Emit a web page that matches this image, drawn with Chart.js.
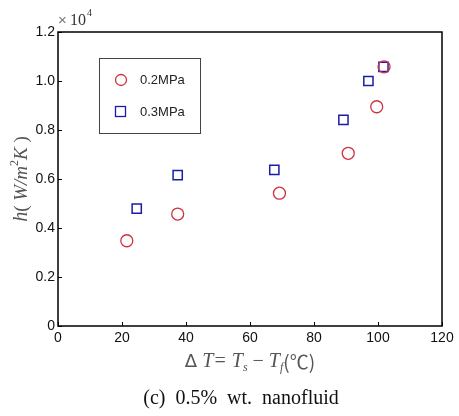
<!DOCTYPE html>
<html lang="en">
<head>
<meta charset="UTF-8">
<title>h vs ΔT</title>
<script src="https://cdn.jsdelivr.net/npm/chart.js"></script>
<style>
  html, body { margin: 0; padding: 0; background: #fff; }
  .wrap { position: relative; width: 459px; height: 416px; }
</style>
</head>
<body>
<div class="wrap"><canvas id="c" width="459" height="416"></canvas></div>
<script>
// data (h in units of 10^4 W/m2K)
const dT_02 = [21.5, 37.4, 69.2, 90.7, 99.6, 101.9];
const h_02  = [0.348, 0.457, 0.542, 0.705, 0.895, 1.058];
const dT_03 = [24.6, 37.4, 67.6, 89.2, 97.0, 101.7];
const h_03  = [0.479, 0.616, 0.637, 0.841, 1.000, 1.058];
const seriesNames = ['0.2MPa', '0.3MPa'];
const xTicks = [0, 20, 40, 60, 80, 100, 120];
const yTicks = [0, 0.2, 0.4, 0.6, 0.8, 1.0, 1.2];

const RED = '#d0303e';
const BLUE = '#1c1ca8';
const toPts = (xs, ys) => xs.map((x, i) => ({ x: x, y: ys[i] }));

// draws a run of [text, font, dy] pieces starting at x, returns end x
function runText(ctx, parts, x, y) {
  parts.forEach(([txt, font, dy]) => {
    ctx.font = font;
    ctx.fillText(txt, x, y + (dy || 0));
    x += ctx.measureText(txt).width;
  });
  return x;
}
function runWidth(ctx, parts) {
  let w = 0;
  parts.forEach(([t, f]) => { ctx.font = f; w += ctx.measureText(t).width; });
  return w;
}

// frame, inward ticks, legend box, titles and caption
const decor = {
  id: 'decor',
  afterDraw(chart) {
    const { ctx, chartArea: a, scales } = chart;
    ctx.save();
    ctx.strokeStyle = '#000';
    ctx.lineWidth = 1.5;
    ctx.strokeRect(a.left, a.top, a.right - a.left, a.bottom - a.top);
    ctx.lineWidth = 1;
    ctx.beginPath();
    scales.x.ticks.forEach(t => {
      const px = Math.round(scales.x.getPixelForValue(t.value)) + 0.5;
      ctx.moveTo(px, a.bottom); ctx.lineTo(px, a.bottom - 4);
    });
    scales.y.ticks.forEach(t => {
      const py = Math.round(scales.y.getPixelForValue(t.value)) + 0.5;
      ctx.moveTo(a.left, py); ctx.lineTo(a.left + 4, py);
    });
    ctx.stroke();

    // legend
    ctx.strokeStyle = '#444';
    ctx.lineWidth = 1;
    ctx.strokeRect(99.5, 58.5, 101, 75);
    ctx.lineWidth = 1.3;
    ctx.strokeStyle = RED;
    ctx.beginPath(); ctx.arc(121, 80, 5.5, 0, Math.PI * 2); ctx.stroke();
    ctx.strokeStyle = BLUE;
    ctx.strokeRect(115.5, 106.5, 10, 10);
    ctx.fillStyle = '#222';
    ctx.font = '13px "Liberation Sans", Arial, sans-serif';
    ctx.textBaseline = 'middle';
    ctx.textAlign = 'left';
    ctx.fillText(seriesNames[0], 140, 80);
    ctx.fillText(seriesNames[1], 140, 112);

    // x10^4 multiplier
    ctx.fillStyle = '#777';
    ctx.font = '15px "Liberation Sans", Arial, sans-serif';
    ctx.fillText('\u00d7', 58, 21);
    ctx.fillStyle = '#333';
    ctx.font = '16px "Liberation Serif", serif';
    ctx.fillText('10', 70, 21);
    ctx.font = '10px "Liberation Serif", serif';
    ctx.fillText('4', 87, 13);

    // y axis title
    ctx.save();
    ctx.translate(22, 179);
    ctx.rotate(-Math.PI / 2);
    ctx.fillStyle = '#555';
    ctx.textAlign = 'left';
    const yParts = [
      ['h', 'italic 20px "Liberation Serif", serif'],
      ['( ', '19px "Liberation Serif", serif'],
      ['W/m', 'italic 19px "Liberation Serif", serif'],
      ['2', '12px "Liberation Serif", serif', -7],
      ['K', 'italic 19px "Liberation Serif", serif'],
      [' )', '19px "Liberation Serif", serif']
    ];
    runText(ctx, yParts, -runWidth(ctx, yParts) / 2, 0);
    ctx.restore();

    // x axis title
    ctx.fillStyle = '#555';
    ctx.textAlign = 'left';
    const xParts = [
      ['\u0394', '18px "DejaVu Sans", sans-serif'],
      [' T= T', 'italic 20px "Liberation Serif", serif'],
      ['s', 'italic 12px "Liberation Serif", serif', 6],
      [' \u2212 ', '20px "Liberation Serif", serif'],
      ['T', 'italic 20px "Liberation Serif", serif'],
      ['f', 'italic 12px "Liberation Serif", serif', 6],
      ['(\u2103)', '19px "Noto Sans CJK SC", serif']
    ];
    runText(ctx, xParts, 250 - runWidth(ctx, xParts) / 2, 362);

    // caption
    ctx.fillStyle = '#111';
    ctx.textAlign = 'center';
    ctx.font = '20px "Liberation Serif", "Times New Roman", serif';
    ctx.fillText('(c)  0.5%  wt.  nanofluid', 241, 399);
    ctx.restore();
  }
};

new Chart(document.getElementById('c'), {
  type: 'scatter',
  data: {
    datasets: [
      { label: seriesNames[0], data: toPts(dT_02, h_02), pointStyle: 'circle',
        pointRadius: 6, borderColor: RED, backgroundColor: 'transparent', borderWidth: 1.3 },
      { label: seriesNames[1], data: toPts(dT_03, h_03), pointStyle: 'rect',
        pointRadius: 6.5, borderColor: BLUE, backgroundColor: 'transparent', borderWidth: 1.5 }
    ]
  },
  options: {
    responsive: false,
    animation: false,
    layout: { padding: { left: 0, top: 32, right: 17, bottom: 0 } },
    plugins: { legend: { display: false }, tooltip: { enabled: false } },
    scales: {
      x: {
        min: 0, max: 120,
        afterFit: s => { s.height = 416 - 32 - 294; },
        afterBuildTicks: s => { s.ticks = xTicks.map(v => ({ value: v })); },
        grid: { display: false, drawTicks: false },
        border: { display: false },
        ticks: { color: '#111', padding: 4, maxRotation: 0,
          font: { family: '"Liberation Sans", Arial, sans-serif', size: 14 } }
      },
      y: {
        min: 0, max: 1.2,
        afterFit: s => { s.width = 58; },
        afterBuildTicks: s => { s.ticks = yTicks.map(v => ({ value: v })); },
        grid: { display: false, drawTicks: false },
        border: { display: false },
        ticks: { color: '#111', padding: 3,
          callback: v => v === 0 ? '0' : v.toFixed(1),
          font: { family: '"Liberation Sans", Arial, sans-serif', size: 14 } }
      }
    }
  },
  plugins: [decor]
});
</script>
</body>
</html>
